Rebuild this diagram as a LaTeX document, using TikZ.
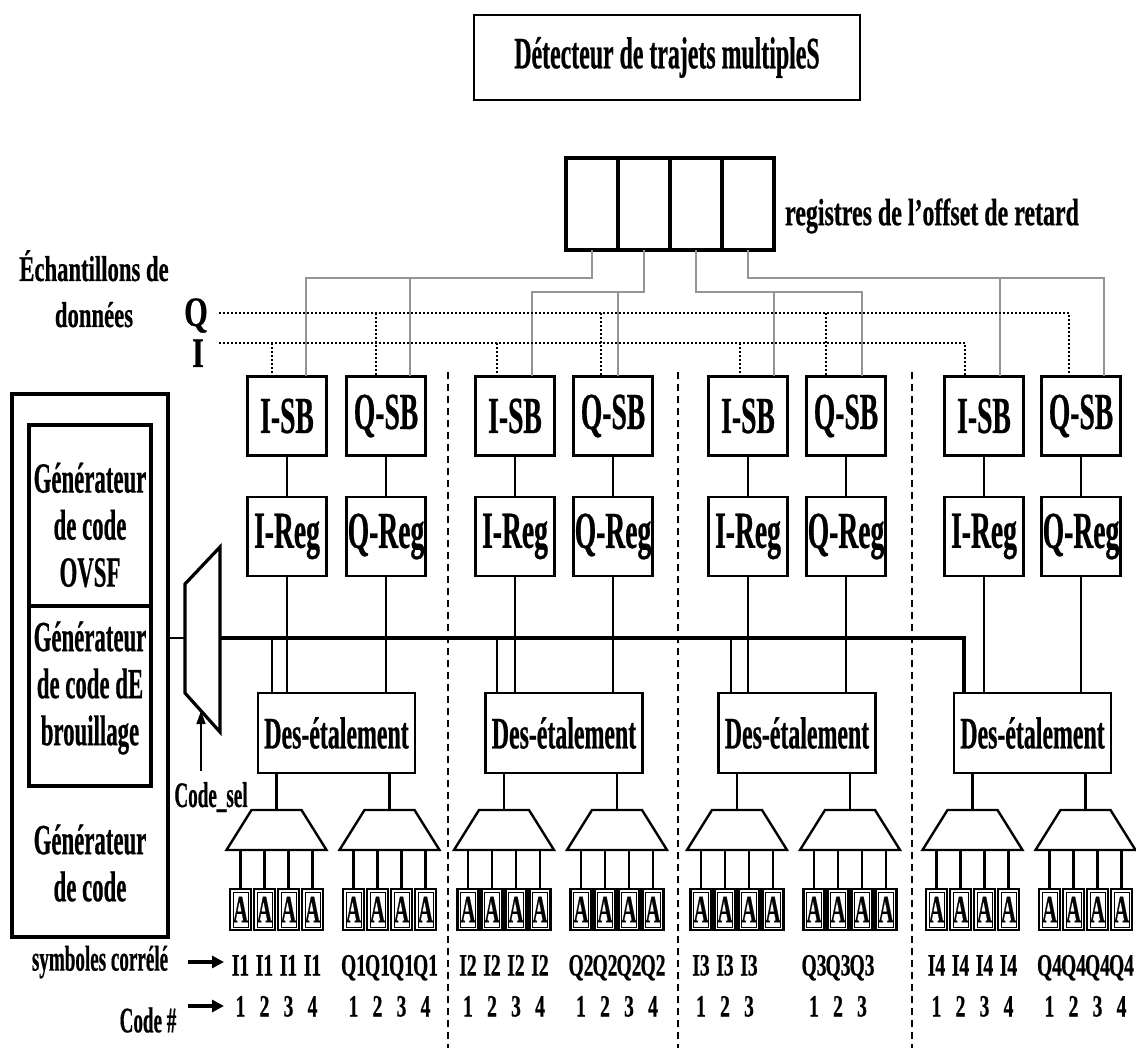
\documentclass[tikz,border=0pt]{standalone}
\usepackage{fontspec}
\setmainfont{Liberation Serif}
\newfontfamily\fa{Liberation Serif}[FakeStretch=0.53, FakeBold=0.5]
\newfontfamily\fb{Liberation Serif}[FakeStretch=0.63, FakeBold=0.5]
\newfontfamily\fc{Liberation Serif}[FakeStretch=0.72, FakeBold=0.5]
\usetikzlibrary{arrows.meta,calc}
\newcommand{\fsz}[2]{\fontsize{#1pt}{#2pt}\selectfont}
\begin{document}
\begin{tikzpicture}[x=1pt,y=-1pt,
  every node/.style={inner sep=0pt, outer sep=0pt, font={\fa\bfseries\fsz{40}{40}}},
  blk/.style={draw, line width=2.6pt, minimum width=79pt, minimum height=79pt, font={\fa\bfseries\fsz{52}{52}}},
  desbox/.style={draw, line width=2.6pt, minimum width=157pt, minimum height=80pt, font={\fa\bfseries\fsz{45}{45}}},
  genbox/.style={draw, line width=3.5pt},
  regcell/.style={draw, line width=3.5pt, minimum width=52pt, minimum height=92pt},
  wire/.style={line width=2.4pt},
  bus/.style={line width=3.2pt},
  thinw/.style={line width=1.2pt},
  gline/.style={line width=2pt, draw=black!42},
  dline/.style={line width=2pt, dash pattern=on 2pt off 2pt},
  sepline/.style={line width=1.4pt, dash pattern=on 7pt off 5pt},
  demux/.style={line width=2.4pt, line join=miter},
  abox/.style={draw, line width=2.4pt, minimum width=21pt, minimum height=41pt,
    font={\fa\bfseries\fsz{39}{39}},
    path picture={\draw[line width=0.8pt]
      ([shift={(3pt,-3pt)}]path picture bounding box.north west) rectangle
      ([shift={(-3pt,3pt)}]path picture bounding box.south east);}},
  lbl/.style={font={\fb\bfseries\fsz{31}{31}}, anchor=base},
  side/.style={font={\fa\bfseries\fsz{36}{36}}},
  gentext/.style={align=center, font={\fa\bfseries\fsz{43}{47}}},
  rowarrow/.style={line width=3.2pt, -{Triangle[length=12pt,width=12pt]}}
]
\useasboundingbox (0,0) rectangle (1136,1048);

% multipath detector and delay offset registers
\node[draw, line width=2.8pt, minimum width=386pt, minimum height=85pt,
      font={\fa\bfseries\fsz{45}{45}}] (det) at (667,57.5) {Détecteur de trajets multipleS};
\foreach \c/\x in {1/592,2/644,3/696,4/748}
  \node[regcell] (reg\c) at (\x,204) {};
\node[font={\fb\bfseries\fsz{38}{38}}] (regtxt) at (932,216) {registres de l’offset de retard};

% data sample inputs
\node[font={\fb\bfseries\fsz{36}{36}}, anchor=base] (ech1) at (94,281) {Échantillons de};
\node[font={\fb\bfseries\fsz{36}{36}}, anchor=base] (ech2) at (94,327) {données};
\node[font={\fc\bfseries\fsz{42}{42}}, anchor=base] (qlab) at (196,326) {Q};
\node[font={\fc\bfseries\fsz{42}{42}}, anchor=base] (ilab) at (198,367) {I};
\coordinate (qs) at (219,313);
\coordinate (is) at (219,343);
\coordinate (hA) at (0,278);
\coordinate (hB) at (0,292);

% code generator
\node[genbox, minimum width=156pt, minimum height=543pt] (gen) at (90,665.5) {};
\node[genbox, minimum width=122pt, minimum height=181pt] (ovsf) at (90,515.5) {};
\node[genbox, minimum width=122pt, minimum height=180pt] (scr) at (90,696) {};
\node[gentext] (t1) at (90,525) {Générateur\\de code\\OVSF};
\node[gentext] (t2) at (90,688) {Générateur\\de code dE\\brouillage};
\node[gentext] (t3) at (90,863) {Générateur\\de code};

% code selection multiplexer
\coordinate (m1) at (185,584);
\coordinate (m2) at (220,547);
\coordinate (m3) at (220,732);
\coordinate (m4) at (185,693);
\draw[line width=3.2pt, line join=miter] (m1) -- (m2) -- (m3) -- (m4) -- cycle;
\coordinate (mi) at (185,638);
\coordinate (mo) at (220,638);
\draw[thinw] (gen.east |- mi) -- (mi);
\node[side] (csel) at (211,797) {Code\_sel};
\coordinate (cs0) at (201,771);
\coordinate (cs1) at (201,711);
\draw[line width=1.5pt, -{Triangle[length=13pt,width=9pt]}] (cs0) -- (cs1);

% finger separators
\foreach \x in {448,678,912}
  \draw[sepline] (\x,372) -- (\x,1048);

% fingers
\foreach \g/\xi/\xq/\di/\gi/\dq/\gq in {
    1/287/386/272/306/376/410,
    2/515/613/497/532/601/618,
    3/748/846/740/774/826/862,
    4/984/1081/965/1000/1069/1104}{
  \pgfmathsetmacro\dc{(\xi+\xq)/2}
  \node[blk] (isb\g) at (\xi,416) {I-SB};
  \node[blk] (qsb\g) at (\xq,416) {Q-SB};
  \node[blk] (ireg\g) at (\xi,536.5) {I-Reg};
  \node[blk] (qreg\g) at (\xq,536.5) {Q-Reg};
  \node[desbox] (des\g) at (\dc,733) {Des-étalement};
  \coordinate (id\g) at (\di,376.5);
  \coordinate (qd\g) at (\dq,376.5);
  \coordinate (ig\g) at (\gi,376.5);
  \coordinate (qg\g) at (\gq,376.5);
  \draw[wire] (isb\g) -- (ireg\g);
  \draw[wire] (qsb\g) -- (qreg\g);
  \draw[wire] (ireg\g) -- (ireg\g.south |- des\g.north);
  \draw[wire] (qreg\g) -- (qreg\g.south |- des\g.north);
  % output selectors
  \coordinate (dmi\g) at (\dc-60,810);
  \coordinate (dmq\g) at (\dc+53,810);
  \coordinate (dmib\g) at (\dc-60,850);
  \coordinate (dmqb\g) at (\dc+53,850);
  \draw[demux] ($(dmi\g)+(-25,0)$) -- ++(50,0) -- ++(25,40) -- ++(-100,0) -- cycle;
  \draw[demux] ($(dmq\g)+(-25,0)$) -- ++(50,0) -- ++(25,40) -- ++(-100,0) -- cycle;
  \draw[wire] (dmi\g |- des\g.south) -- (dmi\g);
  \draw[wire] (dmq\g |- des\g.south) -- (dmq\g);
  \foreach \j/\o in {1/-36,2/-12,3/12,4/36}{
    \node[abox] (ai\g\j) at (\dc-60+\o,909.5) {A};
    \node[abox] (aq\g\j) at (\dc+53+\o,909.5) {A};
    \draw[wire] (ai\g\j |- dmib\g) -- (ai\g\j);
    \draw[wire] (aq\g\j |- dmqb\g) -- (aq\g\j);
  }
  \pgfmathtruncatemacro\n{\g==3 ? 3 : 4}
  \foreach \j in {1,...,\n}{
    \node[lbl] (si\g\j) at ($(ai\g\j)+(0,66)$) {I\g};
    \node[lbl] (sq\g\j) at ($(aq\g\j)+(0,66)$) {Q\g};
    \node[lbl] (ni\g\j) at ($(ai\g\j)+(0,107)$) {\j};
    \node[lbl] (nq\g\j) at ($(aq\g\j)+(0,107)$) {\j};
  }
}

% delay offset register outputs
\draw[gline] (reg1.south) |- (ig1 |- hA) -- (ig1);
\draw[gline] (qg1 |- hA) -- (qg1);
\draw[gline] (reg2.south) |- (qg2 |- hB) -| (ig2);
\draw[gline] (qg2 |- hB) -- (qg2);
\draw[gline] (reg3.south) |- (qg3 |- hB) -- (qg3);
\draw[gline] (ig3 |- hB) -- (ig3);
\draw[gline] (reg4.south) |- (qg4 |- hA) -- (qg4);
\draw[gline] (ig4 |- hA) -- (ig4);

% I and Q sample lines
\draw[dline] (qs) -| (qd4);
\draw[dline] (is) -| (id4);
\foreach \g in {1,2,3}{
  \draw[dline] (id\g |- is) -- (id\g);
  \draw[dline] (qd\g |- qs) -- (qd\g);
}

% code bus
\coordinate (bend) at (964,638);
\draw[bus] (mo) -- (bend) -- (bend |- des4.north);
\foreach \g/\x in {1/272,2/497,3/731}{
  \coordinate (x\g) at (\x,638);
  \draw[wire] (x\g) -- (x\g |- des\g.north);
}

% row captions
\node[side] (symb) at (100,962) {symboles corrélé};
\node[side] (codeno) at (148,1020) {Code \#};
\coordinate (ra0) at (188,962);
\coordinate (ra1) at (224,962);
\coordinate (rb0) at (188,1006);
\coordinate (rb1) at (224,1006);
\draw[rowarrow] (ra0) -- (ra1);
\draw[rowarrow] (rb0) -- (rb1);
\end{tikzpicture}
\end{document}
